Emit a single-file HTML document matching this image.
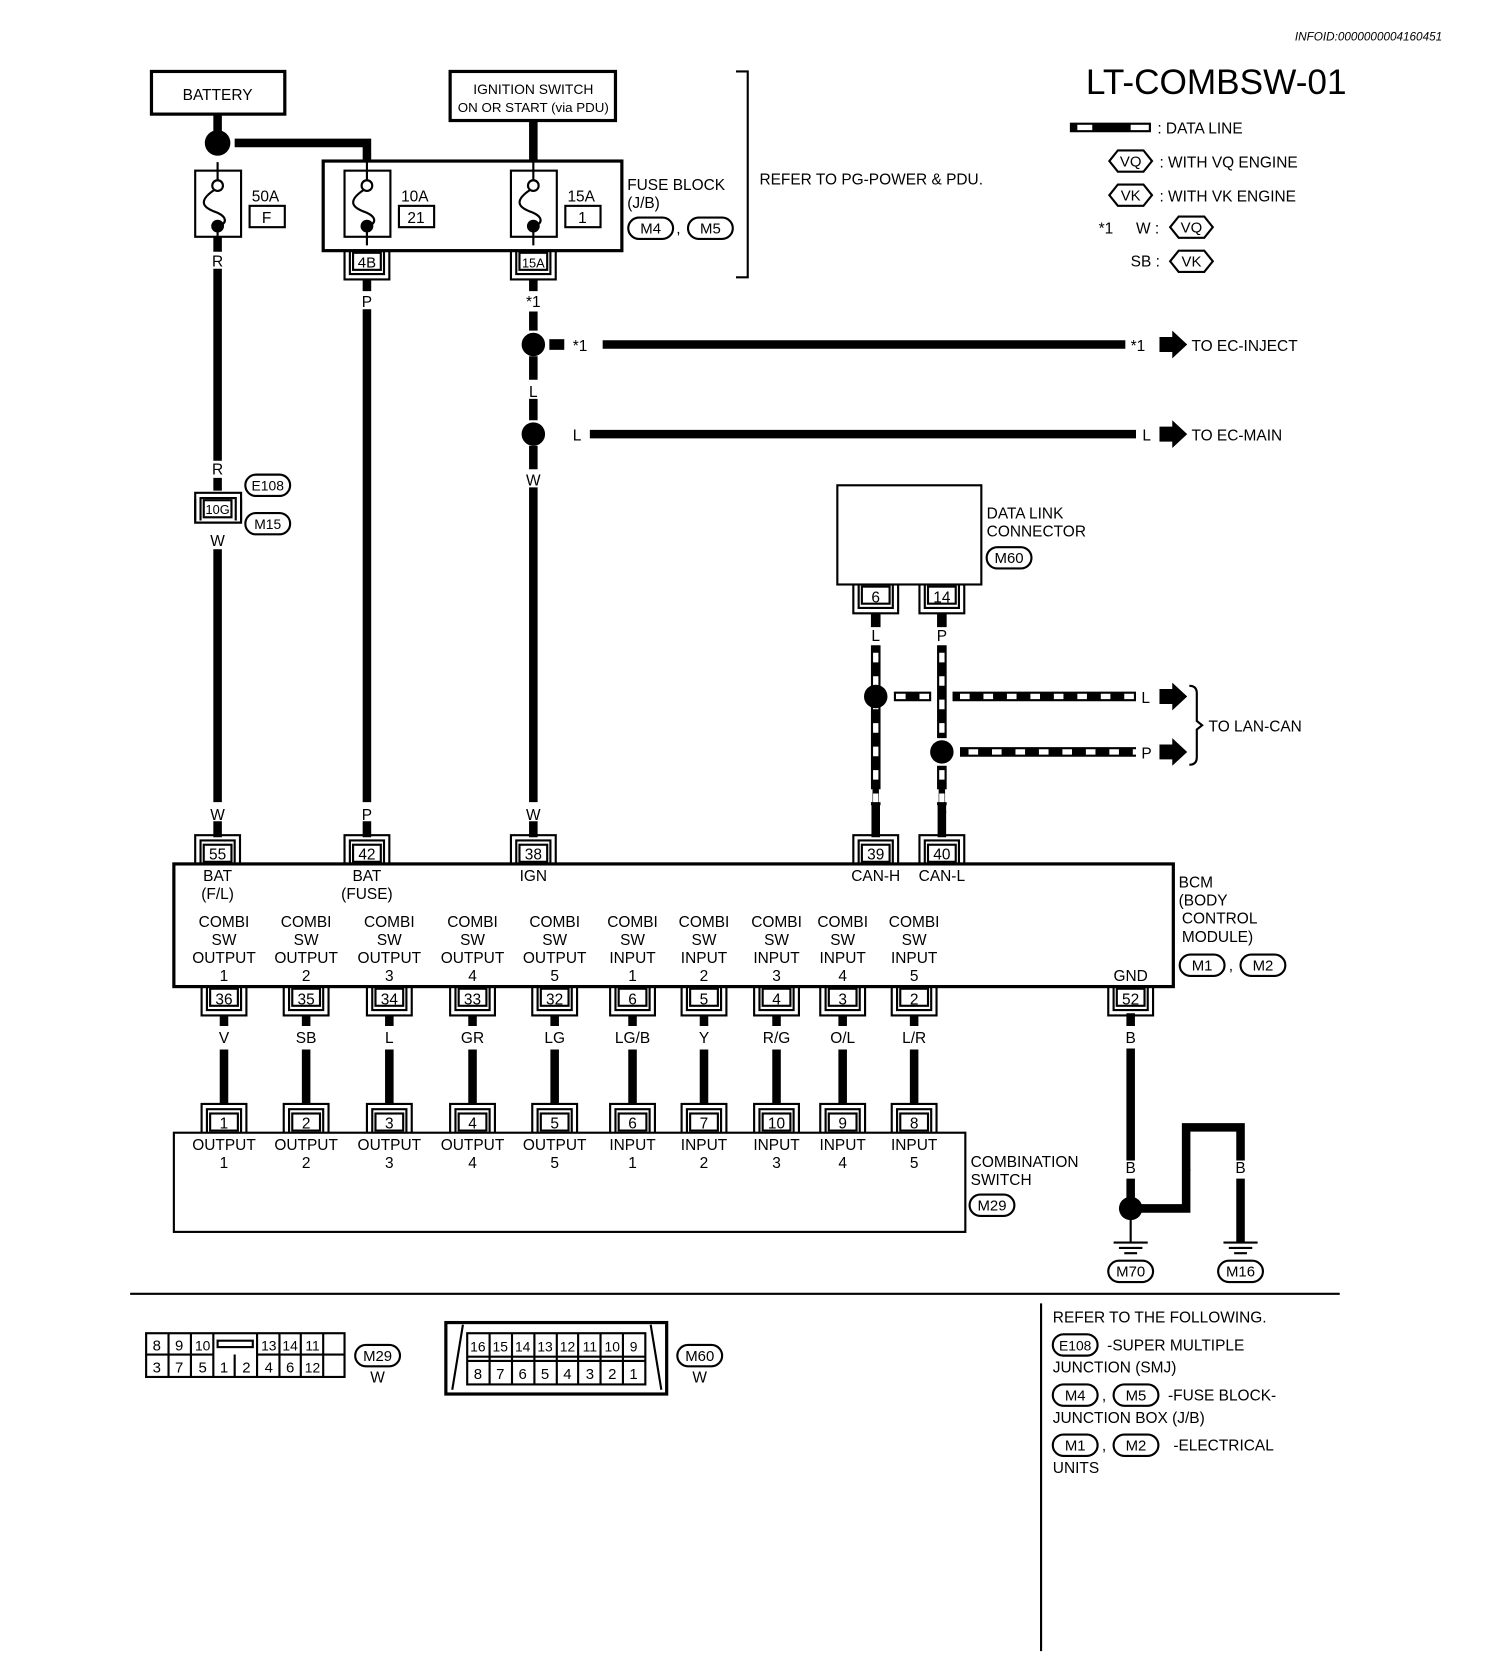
<!DOCTYPE html>
<html><head><meta charset="utf-8"><style>
html,body{margin:0;padding:0;background:#fff}
svg{display:block}
text{font-family:"Liberation Sans",sans-serif;font-size:14.5px;fill:#000}
.c{text-anchor:middle}
</style></head><body>
<svg width="1504" height="1666" viewBox="0 0 1410 1562" preserveAspectRatio="none" xmlns="http://www.w3.org/2000/svg">
<defs>
<g id="ct" fill="none" stroke="#000" stroke-width="2">
<path d="M-21,0 V-27 H21 V0"/><path d="M-16,0 V-22 H16 V0"/><rect x="-13" y="-18" width="26" height="16" fill="#fff"/>
</g>
<g id="cb" fill="none" stroke="#000" stroke-width="2">
<path d="M-21,0 V27 H21 V0"/><path d="M-16,0 V22 H16 V0"/><rect x="-13" y="2" width="26" height="16" fill="#fff"/>
</g>
<g id="fuse" fill="none" stroke="#000" stroke-width="2">
<rect x="-21" y="0" width="43" height="62" fill="#fff"/>
<circle cx="0" cy="14" r="5"/>
<path d="M-3,18 C-18,28 -14,34 -4,38 C8,42 10,48 2,52"/>
<circle cx="0" cy="52" r="5" fill="#000"/>
<path d="M0,-8 V9 M0,57 V70"/>
</g>
<polygon id="hex" points="-20,0 -12,-10 12,-10 20,0 12,10 -12,10" fill="#fff" stroke="#000" stroke-width="2"/>
<rect id="ell" x="-21" y="-10" width="42" height="20" rx="10" fill="#fff" stroke="#000" stroke-width="2"/>
<polygon id="arr" points="0,-7 12,-7 12,-13 26,0 12,13 12,7 0,7" fill="#000"/>
<g id="gnd" stroke="#000" stroke-width="2"><path d="M-16,0 H16 M-11,5 H11 M-6,10 H6"/></g>
</defs>

<text x="1352" y="38" style="font-size:11px;font-style:italic" text-anchor="end">INFOID:0000000004160451</text>
<text x="1018" y="88" style="font-size:33px">LT-COMBSW-01</text>

<!-- legend -->
<rect x="1003" y="115" width="76" height="9" fill="#000"/>
<rect x="1010" y="117" width="14" height="5" fill="#fff"/><rect x="1060" y="117" width="17" height="5" fill="#fff"/>
<text x="1085" y="125">: DATA LINE</text>
<use href="#hex" x="1060" y="151"/><text x="1060" y="156" class="c" style="font-size:14px">VQ</text>
<text x="1087" y="157">: WITH VQ ENGINE</text>
<use href="#hex" x="1060" y="183"/><text x="1060" y="188" class="c" style="font-size:14px">VK</text>
<text x="1087" y="189">: WITH VK ENGINE</text>
<text x="1030" y="219">*1</text><text x="1065" y="219">W :</text>
<use href="#hex" x="1117" y="213"/><text x="1117" y="218" class="c" style="font-size:14px">VQ</text>
<text x="1060" y="250">SB :</text>
<use href="#hex" x="1117" y="245"/><text x="1117" y="250" class="c" style="font-size:14px">VK</text>

<!-- battery / ignition -->
<rect x="142" y="67" width="125" height="40" fill="none" stroke="#000" stroke-width="3"/>
<text x="204" y="94" class="c">BATTERY</text>
<rect x="422" y="67" width="155" height="46" fill="none" stroke="#000" stroke-width="3"/>
<text x="500" y="88" class="c" style="font-size:13px">IGNITION SWITCH</text>
<text x="500" y="105" class="c" style="font-size:12.5px">ON OR START (via PDU)</text>
<path d="M690,67 H701 V260 H690" fill="none" stroke="#000" stroke-width="2"/>
<text x="712" y="173">REFER TO PG-POWER &amp; PDU.</text>

<g stroke="#000" stroke-width="8" fill="none">
<path d="M204,107 V125"/>
<path d="M220,134 H344 V151"/>
<path d="M500,113 V151"/>
<path d="M204,222 V236 M204,252 V432 M204,448 V460"/>
<path d="M204,515 V752 M204,770 V785"/>
<path d="M344,262 V273 M344,290 V752 M344,770 V785"/>
<path d="M500,262 V273 M500,292 V310 M500,334 V356 M500,374 V394 M500,418 V440 M500,457 V752 M500,770 V785"/>
<path d="M565,323 H1055 M553,407 H1065"/>
<path d="M1060,950 V962 M1060,983 V1088 M1060,1105 V1125 M1070,1133 H1112 V1057 H1163 V1088 M1163,1105 V1165"/>
</g>
<rect x="515" y="318" width="14" height="10" fill="#000"/><text x="537" y="329">*1</text>
<text x="1060" y="329">*1</text>
<text x="537" y="413">L</text><text x="1071" y="413">L</text>
<circle cx="204" cy="134" r="12"/>
<circle cx="500" cy="323" r="11"/><circle cx="500" cy="407" r="11"/>
<use href="#arr" x="1087" y="323"/><text x="1117" y="329">TO EC-INJECT</text>
<use href="#arr" x="1087" y="407"/><text x="1117" y="413">TO EC-MAIN</text>

<!-- fuses -->
<rect x="303" y="151" width="280" height="84" fill="none" stroke="#000" stroke-width="3"/>
<use href="#fuse" x="204" y="160"/>
<use href="#fuse" x="344" y="160"/>
<use href="#fuse" x="500" y="160"/>
<text x="236" y="189">50A</text><rect x="234" y="193" width="33" height="20" fill="none" stroke="#000" stroke-width="2"/><text x="250" y="209" class="c">F</text>
<text x="376" y="189">10A</text><rect x="374" y="193" width="33" height="20" fill="none" stroke="#000" stroke-width="2"/><text x="390" y="209" class="c">21</text>
<text x="532" y="189">15A</text><rect x="530" y="193" width="33" height="20" fill="none" stroke="#000" stroke-width="2"/><text x="546" y="209" class="c">1</text>
<text x="588" y="178">FUSE BLOCK</text><text x="588" y="195">(J/B)</text>
<use href="#ell" x="610" y="214"/><text x="610" y="219" class="c" style="font-size:14px">M4</text>
<text x="634" y="219">,</text>
<use href="#ell" x="666" y="214"/><text x="666" y="219" class="c" style="font-size:14px">M5</text>
<use href="#cb" x="344" y="235"/><text x="344" y="251" class="c" style="font-size:14px">4B</text>
<use href="#cb" x="500" y="235"/><text x="500" y="251" class="c" style="font-size:12px">15A</text>
<text x="204" y="250" class="c">R</text>
<text x="344" y="288" class="c">P</text>
<text x="500" y="288" class="c">*1</text>
<text x="500" y="372" class="c">L</text>
<text x="500" y="455" class="c">W</text>

<!-- 10G junction -->
<text x="204" y="445" class="c">R</text>
<path d="M183,488 V462 H226 V488 M188,488 V467 H221 V488" fill="none" stroke="#000" stroke-width="2"/>
<rect x="191" y="469" width="26" height="16" fill="#fff" stroke="#000" stroke-width="2"/>
<text x="204" y="482" class="c" style="font-size:12px">10G</text>
<path d="M183,468 V490 H226 V468" fill="none" stroke="#000" stroke-width="2"/>
<use href="#ell" x="251" y="455"/><text x="251" y="460" class="c" style="font-size:13px">E108</text>
<use href="#ell" x="251" y="491"/><text x="251" y="496" class="c" style="font-size:13px">M15</text>
<text x="204" y="512" class="c">W</text>

<!-- Data link connector -->
<rect x="785" y="455" width="135" height="93" fill="none" stroke="#000" stroke-width="2"/>
<text x="925" y="486">DATA LINK</text><text x="925" y="503">CONNECTOR</text>
<use href="#ell" x="946" y="523"/><text x="946" y="528" class="c" style="font-size:14px">M60</text>
<use href="#cb" x="821" y="548"/><text x="821" y="565" class="c">6</text>
<use href="#cb" x="883" y="548"/><text x="883" y="565" class="c">14</text>
<g stroke-width="9" fill="none" stroke="#000">
<path d="M821,575 V588 M821,605 V755 M883,575 V588 M883,605 V692 M883,718 V755 M838,653 H873 M893,653 H1065 M900,705 H1065"/>
</g>
<g stroke-width="5" fill="none" stroke="#fff" stroke-dasharray="9 13">
<path d="M821,612 V755 M883,612 V690 M883,722 V755 M840,653 H872 M900,653 H1065 M908,705 H1065"/>
</g>
<path d="M821,752 V785 M883,752 V785" stroke="#000" stroke-width="8"/>
<path d="M817,740 V752 M825,740 V752 M879,740 V752 M887,740 V752" stroke="#fff" stroke-width="2"/>
<text x="821" y="601" class="c">L</text><text x="883" y="601" class="c">P</text>
<circle cx="821" cy="653" r="11"/><circle cx="883" cy="705" r="11"/>
<text x="1070" y="659">L</text><text x="1070" y="711">P</text>
<use href="#arr" x="1087" y="653"/><use href="#arr" x="1087" y="705"/>
<path d="M1115,643 Q1122,643 1122,650 V676 L1127,680 L1122,684 V710 Q1122,717 1115,717" fill="none" stroke="#000" stroke-width="2"/>
<text x="1133" y="686">TO LAN-CAN</text>

<!-- BCM -->
<text x="204" y="769" class="c">W</text><text x="344" y="769" class="c">P</text><text x="500" y="769" class="c">W</text>
<text x="821" y="769" class="c">L</text><text x="883" y="769" class="c">P</text>
<rect x="163" y="810" width="937" height="115" fill="none" stroke="#000" stroke-width="3"/>
<use href="#ct" x="204" y="810"/><text x="204" y="806" class="c">55</text>
<use href="#ct" x="344" y="810"/><text x="344" y="806" class="c">42</text>
<use href="#ct" x="500" y="810"/><text x="500" y="806" class="c">38</text>
<use href="#ct" x="821" y="810"/><text x="821" y="806" class="c">39</text>
<use href="#ct" x="883" y="810"/><text x="883" y="806" class="c">40</text>
<text x="204" y="826" class="c">BAT</text><text x="204" y="843" class="c">(F/L)</text>
<text x="344" y="826" class="c">BAT</text><text x="344" y="843" class="c">(FUSE)</text>
<text x="500" y="826" class="c">IGN</text>
<text x="821" y="826" class="c">CAN-H</text><text x="883" y="826" class="c">CAN-L</text>
<text x="1105" y="832">BCM</text><text x="1105" y="849">(BODY</text><text x="1108" y="866">CONTROL</text><text x="1108" y="883">MODULE)</text>
<use href="#ell" x="1127" y="905"/><text x="1127" y="910" class="c" style="font-size:14px">M1</text>
<text x="1152" y="910">,</text>
<use href="#ell" x="1184" y="905"/><text x="1184" y="910" class="c" style="font-size:14px">M2</text>
<text x="1060" y="920" class="c">GND</text>

<g text-anchor="middle">
<text x="210" y="869">COMBI</text><text x="210" y="886">SW</text><text x="210" y="903">OUTPUT</text><text x="210" y="920">1</text>
<text x="287" y="869">COMBI</text><text x="287" y="886">SW</text><text x="287" y="903">OUTPUT</text><text x="287" y="920">2</text>
<text x="365" y="869">COMBI</text><text x="365" y="886">SW</text><text x="365" y="903">OUTPUT</text><text x="365" y="920">3</text>
<text x="443" y="869">COMBI</text><text x="443" y="886">SW</text><text x="443" y="903">OUTPUT</text><text x="443" y="920">4</text>
<text x="520" y="869">COMBI</text><text x="520" y="886">SW</text><text x="520" y="903">OUTPUT</text><text x="520" y="920">5</text>
<text x="593" y="869">COMBI</text><text x="593" y="886">SW</text><text x="593" y="903">INPUT</text><text x="593" y="920">1</text>
<text x="660" y="869">COMBI</text><text x="660" y="886">SW</text><text x="660" y="903">INPUT</text><text x="660" y="920">2</text>
<text x="728" y="869">COMBI</text><text x="728" y="886">SW</text><text x="728" y="903">INPUT</text><text x="728" y="920">3</text>
<text x="790" y="869">COMBI</text><text x="790" y="886">SW</text><text x="790" y="903">INPUT</text><text x="790" y="920">4</text>
<text x="857" y="869">COMBI</text><text x="857" y="886">SW</text><text x="857" y="903">INPUT</text><text x="857" y="920">5</text>
</g>

<!-- BCM bottom connectors -->
<g>
<use href="#cb" x="210" y="925"/><use href="#cb" x="287" y="925"/><use href="#cb" x="365" y="925"/><use href="#cb" x="443" y="925"/><use href="#cb" x="520" y="925"/>
<use href="#cb" x="593" y="925"/><use href="#cb" x="660" y="925"/><use href="#cb" x="728" y="925"/><use href="#cb" x="790" y="925"/><use href="#cb" x="857" y="925"/><use href="#cb" x="1060" y="925"/>
</g>
<g text-anchor="middle">
<text x="210" y="942">36</text><text x="287" y="942">35</text><text x="365" y="942">34</text><text x="443" y="942">33</text><text x="520" y="942">32</text>
<text x="593" y="942">6</text><text x="660" y="942">5</text><text x="728" y="942">4</text><text x="790" y="942">3</text><text x="857" y="942">2</text><text x="1060" y="942">52</text>
<text x="210" y="978">V</text><text x="287" y="978">SB</text><text x="365" y="978">L</text><text x="443" y="978">GR</text><text x="520" y="978">LG</text>
<text x="593" y="978">LG/B</text><text x="660" y="978">Y</text><text x="728" y="978">R/G</text><text x="790" y="978">O/L</text><text x="857" y="978">L/R</text><text x="1060" y="978">B</text>
</g>
<g stroke="#000" stroke-width="8">
<path d="M210,952 V962 M210,984 V1035 M287,952 V962 M287,984 V1035 M365,952 V962 M365,984 V1035 M443,952 V962 M443,984 V1035 M520,952 V962 M520,984 V1035 M593,952 V962 M593,984 V1035 M660,952 V962 M660,984 V1035 M728,952 V962 M728,984 V1035 M790,952 V962 M790,984 V1035 M857,952 V962 M857,984 V1035"/>
</g>

<!-- Combination switch -->
<rect x="163" y="1062" width="742" height="93" fill="none" stroke="#000" stroke-width="2"/>
<use href="#ct" x="210" y="1062"/><use href="#ct" x="287" y="1062"/><use href="#ct" x="365" y="1062"/><use href="#ct" x="443" y="1062"/><use href="#ct" x="520" y="1062"/>
<use href="#ct" x="593" y="1062"/><use href="#ct" x="660" y="1062"/><use href="#ct" x="728" y="1062"/><use href="#ct" x="790" y="1062"/><use href="#ct" x="857" y="1062"/>
<g text-anchor="middle">
<text x="210" y="1058">1</text><text x="287" y="1058">2</text><text x="365" y="1058">3</text><text x="443" y="1058">4</text><text x="520" y="1058">5</text>
<text x="593" y="1058">6</text><text x="660" y="1058">7</text><text x="728" y="1058">10</text><text x="790" y="1058">9</text><text x="857" y="1058">8</text>
<text x="210" y="1078">OUTPUT</text><text x="210" y="1095">1</text>
<text x="287" y="1078">OUTPUT</text><text x="287" y="1095">2</text>
<text x="365" y="1078">OUTPUT</text><text x="365" y="1095">3</text>
<text x="443" y="1078">OUTPUT</text><text x="443" y="1095">4</text>
<text x="520" y="1078">OUTPUT</text><text x="520" y="1095">5</text>
<text x="593" y="1078">INPUT</text><text x="593" y="1095">1</text>
<text x="660" y="1078">INPUT</text><text x="660" y="1095">2</text>
<text x="728" y="1078">INPUT</text><text x="728" y="1095">3</text>
<text x="790" y="1078">INPUT</text><text x="790" y="1095">4</text>
<text x="857" y="1078">INPUT</text><text x="857" y="1095">5</text>
</g>
<text x="910" y="1094">COMBINATION</text><text x="910" y="1111">SWITCH</text>
<use href="#ell" x="930" y="1130"/><text x="930" y="1135" class="c" style="font-size:14px">M29</text>

<!-- grounds -->
<text x="1060" y="1100" class="c">B</text><text x="1112" y="1100" class="c">B</text><text x="1163" y="1100" class="c">B</text>
<circle cx="1060" cy="1133" r="11"/>
<path d="M1060,1133 V1165" stroke="#000" stroke-width="2"/>
<use href="#gnd" x="1060" y="1165"/><use href="#gnd" x="1163" y="1165"/>
<use href="#ell" x="1060" y="1192"/><text x="1060" y="1197" class="c" style="font-size:14px">M70</text>
<use href="#ell" x="1163" y="1192"/><text x="1163" y="1197" class="c" style="font-size:14px">M16</text>

<!-- separators -->
<path d="M122,1213 H1256 M976,1222 V1548" stroke="#000" stroke-width="2"/>

<!-- M29 face -->
<g fill="none" stroke="#000" stroke-width="2">
<rect x="137" y="1250" width="186" height="41"/>
<path d="M137,1270 H200 M241,1270 H323"/>
<path d="M158,1250 V1291 M179,1250 V1291 M200,1250 V1291 M220,1270 V1291 M241,1250 V1291 M262,1250 V1291 M282,1250 V1291 M303,1250 V1291"/>
<rect x="204" y="1257" width="33" height="6"/>
</g>
<g>
<text x="147" y="1266" class="c" style="font-size:14px">8</text><text x="168" y="1266" class="c" style="font-size:14px">9</text><text x="190" y="1266" class="c" style="font-size:13px">10</text>
<text x="252" y="1266" class="c" style="font-size:13px">13</text><text x="272" y="1266" class="c" style="font-size:13px">14</text><text x="293" y="1266" class="c" style="font-size:13px">11</text>
<text x="147" y="1287" class="c" style="font-size:14px">3</text><text x="168" y="1287" class="c" style="font-size:14px">7</text><text x="190" y="1287" class="c" style="font-size:14px">5</text><text x="210" y="1287" class="c" style="font-size:14px">1</text><text x="231" y="1287" class="c" style="font-size:14px">2</text><text x="252" y="1287" class="c" style="font-size:14px">4</text><text x="272" y="1287" class="c" style="font-size:14px">6</text><text x="293" y="1287" class="c" style="font-size:13px">12</text>
</g>
<use href="#ell" x="354" y="1271"/><text x="354" y="1276" class="c" style="font-size:14px">M29</text>
<text x="354" y="1296" class="c">W</text>

<!-- M60 face -->
<g fill="none" stroke="#000" stroke-width="2">
<rect x="418" y="1240" width="207" height="67" stroke-width="3"/>
<path d="M434,1242 L424,1303 M610,1242 L620,1303"/>
<rect x="438" y="1250" width="167" height="48"/>
<path d="M438,1272 H605 M438,1276 H605"/>
<path d="M459,1250 V1298 M480,1250 V1298 M501,1250 V1298 M522,1250 V1298 M542,1250 V1298 M563,1250 V1298 M584,1250 V1298"/>
</g>
<g>
<text x="448" y="1267" class="c" style="font-size:13px">16</text><text x="469" y="1267" class="c" style="font-size:13px">15</text><text x="490" y="1267" class="c" style="font-size:13px">14</text><text x="511" y="1267" class="c" style="font-size:13px">13</text><text x="532" y="1267" class="c" style="font-size:13px">12</text><text x="553" y="1267" class="c" style="font-size:13px">11</text><text x="574" y="1267" class="c" style="font-size:13px">10</text><text x="594" y="1267" class="c" style="font-size:13px">9</text>
<text x="448" y="1293" class="c" style="font-size:14px">8</text><text x="469" y="1293" class="c" style="font-size:14px">7</text><text x="490" y="1293" class="c" style="font-size:14px">6</text><text x="511" y="1293" class="c" style="font-size:14px">5</text><text x="532" y="1293" class="c" style="font-size:14px">4</text><text x="553" y="1293" class="c" style="font-size:14px">3</text><text x="574" y="1293" class="c" style="font-size:14px">2</text><text x="594" y="1293" class="c" style="font-size:14px">1</text>
</g>
<use href="#ell" x="656" y="1271"/><text x="656" y="1276" class="c" style="font-size:14px">M60</text>
<text x="656" y="1296" class="c">W</text>

<!-- refer -->
<text x="987" y="1240">REFER TO THE FOLLOWING.</text>
<use href="#ell" x="1008" y="1261"/><text x="1008" y="1266" class="c" style="font-size:13px">E108</text>
<text x="1038" y="1266">-SUPER MULTIPLE</text>
<text x="987" y="1287">JUNCTION (SMJ)</text>
<use href="#ell" x="1008" y="1308"/><text x="1008" y="1313" class="c" style="font-size:14px">M4</text>
<text x="1033" y="1313">,</text>
<use href="#ell" x="1065" y="1308"/><text x="1065" y="1313" class="c" style="font-size:14px">M5</text>
<text x="1095" y="1313">-FUSE BLOCK-</text>
<text x="987" y="1334">JUNCTION BOX (J/B)</text>
<use href="#ell" x="1008" y="1355"/><text x="1008" y="1360" class="c" style="font-size:14px">M1</text>
<text x="1033" y="1360">,</text>
<use href="#ell" x="1065" y="1355"/><text x="1065" y="1360" class="c" style="font-size:14px">M2</text>
<text x="1100" y="1360">-ELECTRICAL</text>
<text x="987" y="1381">UNITS</text>
</svg>
</body></html>
